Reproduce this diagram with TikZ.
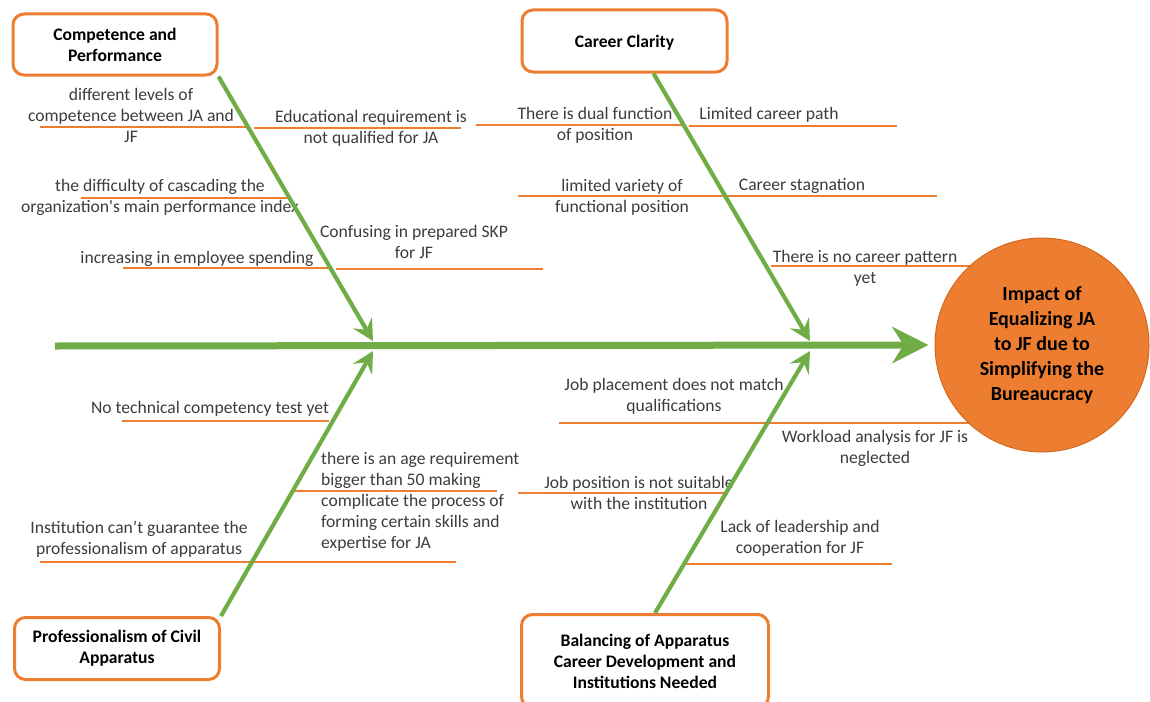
\documentclass[tikz,border=0pt]{standalone}
\usepackage{fontspec}
\setmainfont{Carlito}
\usepackage{xcolor}
\usepackage{tikz}
\usetikzlibrary{arrows.meta}
\usetikzlibrary{positioning}
\definecolor{bonegreen}{HTML}{70AD47}
\definecolor{riborange}{HTML}{ED7D31}
\definecolor{ringorange}{HTML}{D2691E}
\definecolor{notegray}{HTML}{3C3C3C}
\newcommand{\notefont}{\fontsize{17.6}{21}\selectfont}
\newcommand{\headfont}{\fontsize{20}{25}\selectfont\bfseries}

\begin{document}
\begin{tikzpicture}[line cap=butt,line join=round,x=1pt,y=-1pt,
  cause/.style={draw=riborange,line width=3pt,rounded corners=11pt,fill=white,align=center,font=\notefont\bfseries,text=black,inner sep=2pt},
  rib/.style={draw=riborange,line width=2.6pt},
  bone/.style={draw=bonegreen,line width=4.2pt,-{Stealth[length=21pt,width=22pt,inset=8pt]}},
  spine/.style={draw=bonegreen,line width=7pt,-{Stealth[length=36pt,width=36pt,inset=11pt]}},
  note/.style={align=center,text=notegray,font=\notefont,inner sep=0pt,yshift=-2pt}]
\useasboundingbox (0,0) rectangle (1150,701);
\clip (0,0) rectangle (1150,701);
\draw [rib] (40,127)-- (247,127);
\draw [rib] (254,128)-- (461,128);
\draw [rib] (476,125)-- (683,125);
\draw [rib] (689,126)-- (897,126);
\draw [rib] (81,198)-- (288,198);
\draw [rib] (518,196)-- (726,196);
\draw [rib] (726,196)-- (937,196);
\draw [rib] (336,269)-- (543,269);
\draw [rib] (123,268)-- (329,268);
\draw [rib] (771,266)-- (985,266);
\draw [rib] (122,421)-- (329,421);
\draw [rib] (293,491)-- (497,491);
\draw [rib] (40,562)-- (456,562);
\draw [rib] (559,423)-- (767,423);
\draw [rib] (767,423)-- (985,423);
\draw [rib] (518,493)-- (726,493);
\draw [rib] (685,564)-- (892,564);
\node [note] (n1) at (131,113) {different levels of\\competence between JA and\\JF};
\node [note] (n2) at (371,126) {Educational requirement is\\not qualified for JA};
\node [note] (n3) at (595,123) {There is dual function\\of position};
\node [note] (n4) at (769,113) {Limited career path};
\node [note] (n5) at (160,195) {the difficulty of cascading the\\organization\textquotesingle s main performance index};
\node [note] (n6) at (622,195) {limited variety of\\functional position};
\node [note] (n7) at (802,184) {Career stagnation};
\node [note] (n8) at (414,240) {Confusing in prepared SKP\\for JF};
\node [note] (n9) at (197,257) {increasing in employee spending};
\node [note] (n10) at (865,266) {There is no career pattern\\yet};
\node [note] (n11) at (210,407) {No technical competency test yet};
\node [note,align=left,anchor=west] (n12) at (321,500) {there is an age requirement\\bigger than 50 making\\complicate the process of\\forming certain skills and\\expertise for JA};
\node [note] (n13) at (139,537) {Institution can’t guarantee the\\professionalism of apparatus};
\node [note] (n14) at (674,394) {Job placement does not match\\qualifications};
\node [note] (n15) at (875,446) {Workload analysis for JF is\\neglected};
\node [note] (n16) at (639,491) {Job position is not suitable\\with the institution};
\node [note] (n17) at (800,536) {Lack of leadership and\\cooperation for JF};
\node [circle,fill=riborange,draw=ringorange,line width=1pt,minimum size=214pt,inner sep=0pt,align=center,font=\headfont,text=black] (effect) at (1042,345) {Impact of\\Equalizing JA\\to JF due to\\Simplifying the\\Bureaucracy};
\node [cause,minimum width=204pt,minimum height=61pt] (comp) at (115,44.5) {Competence and\\Performance};
\node [cause,minimum width=205pt,minimum height=62pt,text depth=0pt] (clar) at (624.5,41) {Career Clarity};
\node [cause,minimum width=205pt,minimum height=62pt] (prof) at (117,648.5) {Professionalism of Civil\\Apparatus};
\node [cause,minimum width=247pt,minimum height=93pt] (bal) at (645,661) {Balancing of Apparatus\\Career Development and\\Institutions Needed};
\coordinate (tail) at (55,346);
\coordinate (t1) at (373,341);
\coordinate (t2) at (810,341);
\coordinate (t3) at (373,351);
\coordinate (t4) at (810,351);
\draw [bone] (comp.south east)-- (t1);
\draw [bone] ([xshift=29pt]clar.south)-- (t2);
\draw [bone] (prof.north east)-- (t3);
\draw [bone] ([xshift=10pt]bal.north)-- (t4);
\draw [spine] (tail)-- ([xshift=-6pt]effect.west);
\end{tikzpicture}
\end{document}
